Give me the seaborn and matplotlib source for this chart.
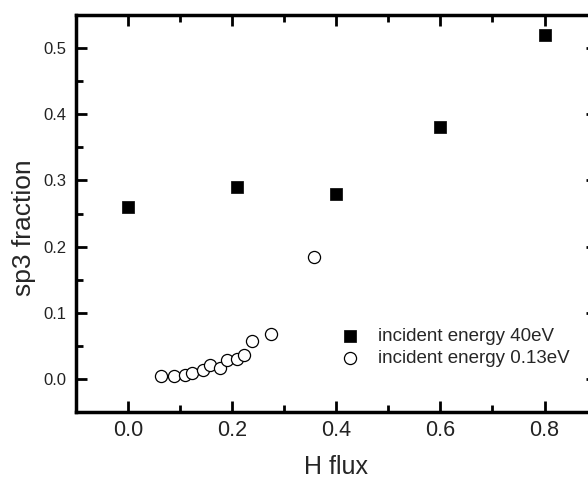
import matplotlib
matplotlib.use("Agg")
import matplotlib.pyplot as plt
import seaborn as sns
import pandas as pd
from matplotlib.ticker import MultipleLocator

# data
flux_40 = [0.0, 0.21, 0.40, 0.60, 0.80]
sp3_40 = [0.26, 0.29, 0.28, 0.38, 0.52]
flux_013 = [0.064, 0.088, 0.110, 0.123, 0.143, 0.158, 0.177, 0.190, 0.209, 0.223, 0.239, 0.274, 0.358]
sp3_013 = [0.0045, 0.0045, 0.006, 0.009, 0.013, 0.021, 0.017, 0.028, 0.030, 0.036, 0.057, 0.068, 0.184]
label_40 = "incident energy 40eV"
label_013 = "incident energy 0.13eV"
xtick_vals = [0.0, 0.2, 0.4, 0.6, 0.8]
xtick_labels = ["0.0", "0.2", "0.4", "0.6", "0.8"]
ytick_vals = [0.0, 0.1, 0.2, 0.3, 0.4, 0.5]
ytick_labels = ["0.0", "0.1", "0.2", "0.3", "0.4", "0.5"]

sns.set_style("ticks")
plt.rcParams['font.family'] = ['Liberation Sans', 'DejaVu Sans']

df40 = pd.DataFrame({"x": flux_40, "y": sp3_40})
df013 = pd.DataFrame({"x": flux_013, "y": sp3_013})

fig = plt.figure(figsize=(5.88, 4.8), dpi=100)
ax = fig.add_axes([76/588, (480-412)/480, (596.6-76)/588, (412-15)/480])

sns.scatterplot(data=df40, x="x", y="y", marker="s", s=66, color="black",
                edgecolor="black", linewidth=0.5, label=label_40, ax=ax, zorder=3)
sns.scatterplot(data=df013, x="x", y="y", marker="o", s=76, facecolor="white",
                edgecolor="black", linewidth=0.9, label=label_013, ax=ax, zorder=3)

ax.set_xlim(-0.1, 0.9)
ax.set_ylim(-0.05, 0.55)
ax.xaxis.set_minor_locator(MultipleLocator(0.1))
ax.yaxis.set_minor_locator(MultipleLocator(0.05))
ax.set_xticks(xtick_vals)
ax.set_xticklabels(xtick_labels)
ax.set_yticks(ytick_vals)
ax.set_yticklabels(ytick_labels)

ax.tick_params(which="both", direction="in", top=True, right=True, width=2, colors="black",
               labelcolor="#222222")
ax.tick_params(which="major", length=8)
ax.tick_params(which="minor", length=5)
ax.tick_params(axis="x", which="major", labelsize=15.5, pad=6)
ax.tick_params(axis="y", which="major", labelsize=12, pad=7)
for sp in ax.spines.values():
    sp.set_visible(True)
    sp.set_linewidth(2.5)
    sp.set_color("black")

ax.set_xlabel("H flux", fontsize=18, labelpad=10)
ax.set_ylabel("sp3 fraction", fontsize=19)
ax.yaxis.set_label_coords(-0.077, 0.4635)

leg = ax.legend(loc="lower left", bbox_to_anchor=(0.475, 0.095), frameon=False,
                fontsize=13.5, handletextpad=0.5, labelspacing=0.25, borderaxespad=0)

fig.savefig("out.png", dpi=100)
